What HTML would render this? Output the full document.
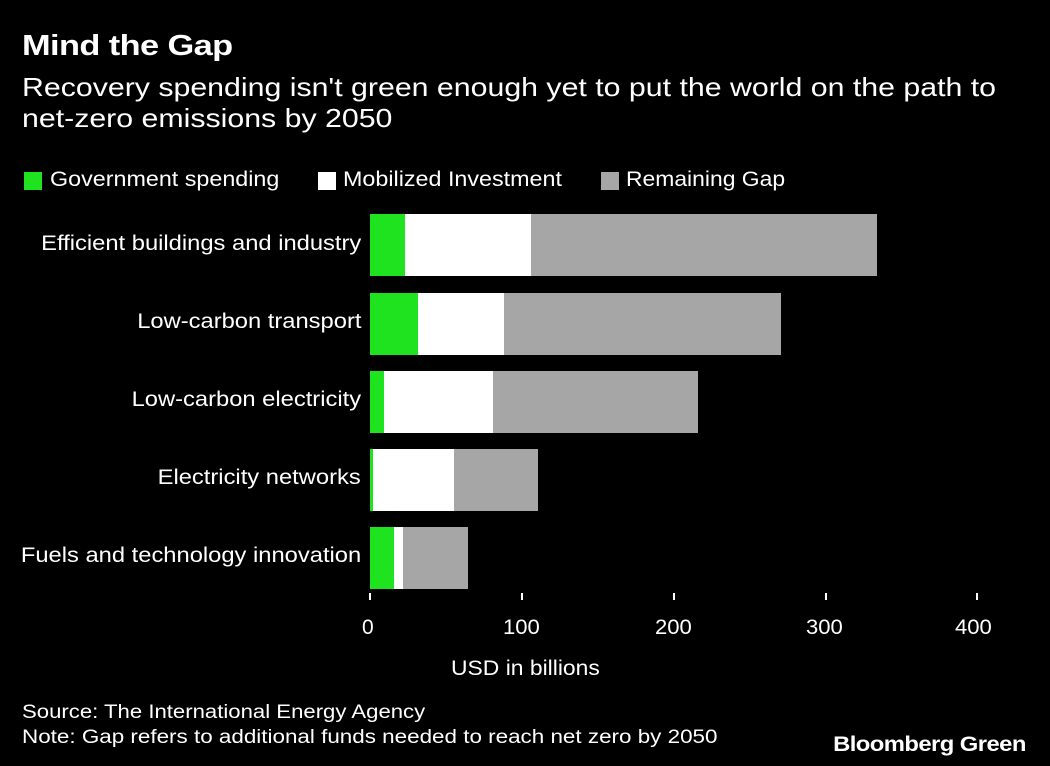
<!DOCTYPE html>
<html><head><style>
body{margin:0;background:#000;width:1050px;height:766px;overflow:hidden;font-family:"Liberation Sans",Arial,sans-serif;color:#fff;position:relative}
.a{position:absolute;white-space:nowrap;transform-origin:left top}
.rt{transform-origin:right top}
.r{position:absolute}
</style></head><body>
<div class="a" style="left:22px;top:30px;font-size:29px;font-weight:bold;letter-spacing:-0.5px;transform:scaleX(1.185)">Mind the Gap</div>
<div class="a" style="left:22px;top:72px;font-size:26px;line-height:31px;transform:scaleX(1.165)">Recovery spending isn't green enough yet to put the world on the path to<br>net-zero emissions by 2050</div>
<div class="r" style="left:24px;top:172px;width:18px;height:18px;background:#1ee31e"></div>
<div class="a" style="left:50px;top:168px;font-size:21px;transform:scaleX(1.11)">Government spending</div>
<div class="r" style="left:318px;top:172px;width:18px;height:18px;background:#fff"></div>
<div class="a" style="left:343px;top:168px;font-size:21px;transform:scaleX(1.11)">Mobilized Investment</div>
<div class="r" style="left:601px;top:172px;width:18px;height:18px;background:#a6a6a6"></div>
<div class="a" style="left:626px;top:168px;font-size:21px;transform:scaleX(1.09)">Remaining Gap</div>

<div class="a rt" style="right:689px;top:232px;font-size:21px;transform:scaleX(1.13)">Efficient buildings and industry</div>
<div class="r" style="left:370px;top:214px;width:35px;height:62px;background:#1ee31e"></div>
<div class="r" style="left:405px;top:214px;width:126px;height:62px;background:#fff"></div>
<div class="r" style="left:531px;top:214px;width:346px;height:62px;background:#a6a6a6"></div>

<div class="a rt" style="right:689px;top:310px;font-size:21px;transform:scaleX(1.13)">Low-carbon transport</div>
<div class="r" style="left:370px;top:293px;width:48px;height:62px;background:#1ee31e"></div>
<div class="r" style="left:418px;top:293px;width:86px;height:62px;background:#fff"></div>
<div class="r" style="left:504px;top:293px;width:277px;height:62px;background:#a6a6a6"></div>

<div class="a rt" style="right:689px;top:388px;font-size:21px;transform:scaleX(1.13)">Low-carbon electricity</div>
<div class="r" style="left:370px;top:371px;width:14px;height:62px;background:#1ee31e"></div>
<div class="r" style="left:384px;top:371px;width:109px;height:62px;background:#fff"></div>
<div class="r" style="left:493px;top:371px;width:205px;height:62px;background:#a6a6a6"></div>

<div class="a rt" style="right:689px;top:466px;font-size:21px;transform:scaleX(1.13)">Electricity networks</div>
<div class="r" style="left:370px;top:449px;width:3px;height:62px;background:#1ee31e"></div>
<div class="r" style="left:373px;top:449px;width:81px;height:62px;background:#fff"></div>
<div class="r" style="left:454px;top:449px;width:84px;height:62px;background:#a6a6a6"></div>

<div class="a rt" style="right:689px;top:544px;font-size:21px;transform:scaleX(1.13)">Fuels and technology innovation</div>
<div class="r" style="left:370px;top:527px;width:24px;height:62px;background:#1ee31e"></div>
<div class="r" style="left:394px;top:527px;width:9px;height:62px;background:#fff"></div>
<div class="r" style="left:403px;top:527px;width:65px;height:62px;background:#a6a6a6"></div>

<div class="r" style="left:369px;top:593px;width:2px;height:7px;background:#fff"></div>
<div class="r" style="left:521px;top:593px;width:2px;height:7px;background:#fff"></div>
<div class="r" style="left:673px;top:593px;width:2px;height:7px;background:#fff"></div>
<div class="r" style="left:825px;top:593px;width:2px;height:7px;background:#fff"></div>
<div class="r" style="left:976px;top:593px;width:2px;height:7px;background:#fff"></div>
<div class="a" style="left:362px;top:616px;font-size:21px">0</div>
<div class="a" style="left:503px;top:616px;font-size:21px;transform:scaleX(1.05)">100</div>
<div class="a" style="left:655px;top:616px;font-size:21px;transform:scaleX(1.05)">200</div>
<div class="a" style="left:806px;top:616px;font-size:21px;transform:scaleX(1.05)">300</div>
<div class="a" style="left:955px;top:616px;font-size:21px;transform:scaleX(1.05)">400</div>
<div class="a" style="left:451px;top:657px;font-size:21px;transform:scaleX(1.09)">USD in billions</div>

<div class="a" style="left:22px;top:700px;font-size:19px;line-height:25px;transform:scaleX(1.165)">Source: The International Energy Agency</div>
<div class="a" style="left:22px;top:725px;font-size:19px;line-height:25px;transform:scaleX(1.18)">Note: Gap refers to additional funds needed to reach net zero by 2050</div>
<div class="a rt" style="right:24px;top:733px;font-size:21px;font-weight:bold;letter-spacing:-0.5px;transform:scaleX(1.135)">Bloomberg Green</div>
</body></html>
